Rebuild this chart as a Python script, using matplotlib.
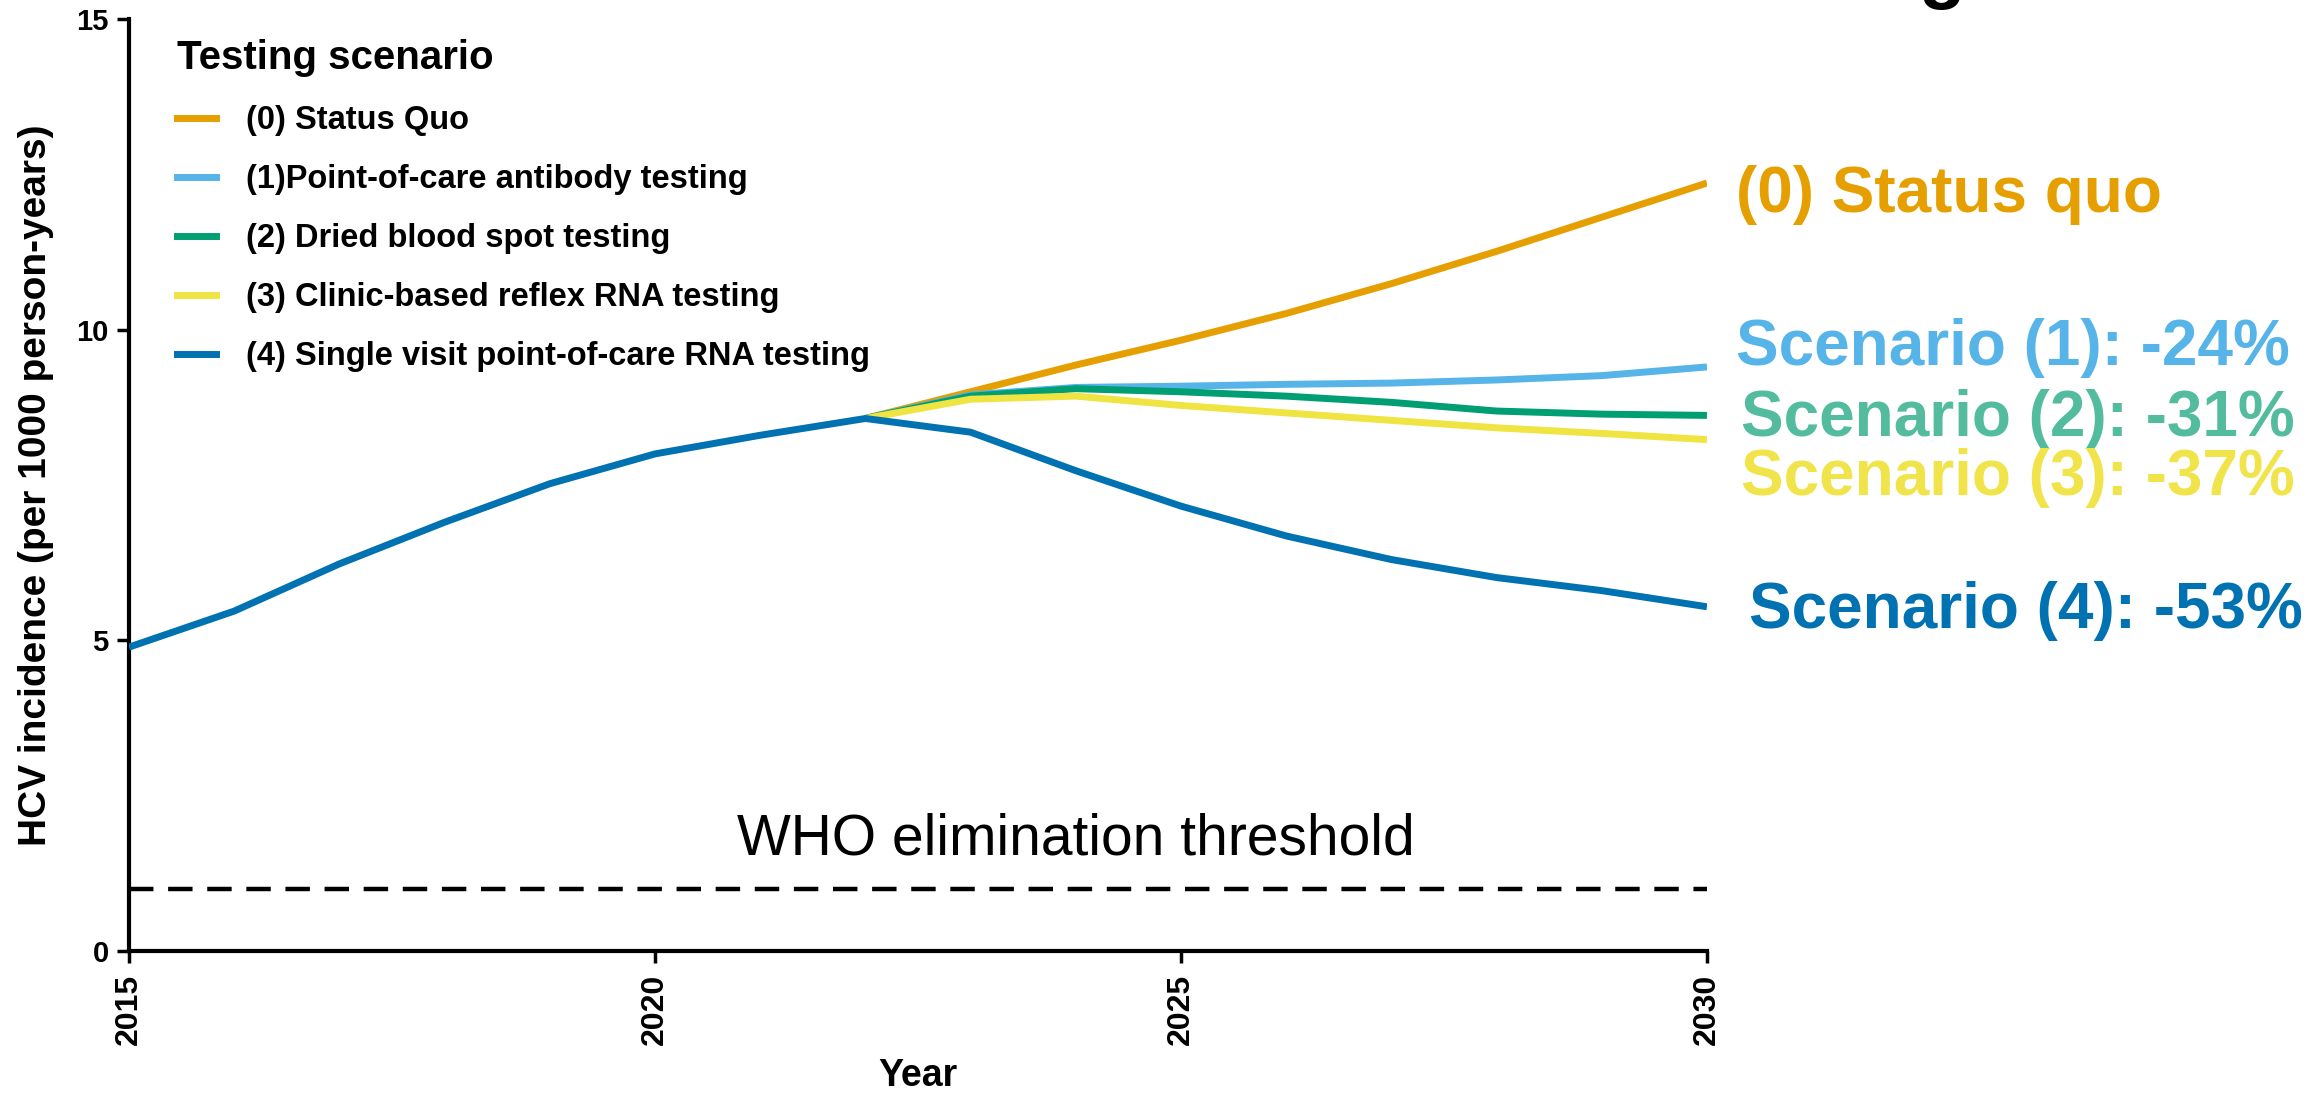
import matplotlib
matplotlib.use("Agg")
import matplotlib.pyplot as plt
from matplotlib.lines import Line2D

# ---- data -------------------------------------------------------------
years_hist = [2015, 2016, 2017, 2018, 2019, 2020, 2021, 2022]
incidence_hist = [4.89, 5.47, 6.23, 6.90, 7.52, 8.00, 8.30, 8.57]

years_proj = [2022, 2023, 2024, 2025, 2026, 2027, 2028, 2029, 2030]
status_quo = [8.57, 9.00, 9.43, 9.83, 10.26, 10.74, 11.26, 11.81, 12.36]
poc_antibody = [8.57, 8.95, 9.07, 9.09, 9.12, 9.14, 9.19, 9.26, 9.40]
dried_blood_spot = [8.57, 8.93, 9.05, 9.00, 8.93, 8.83, 8.69, 8.64, 8.62]
reflex_rna = [8.57, 8.88, 8.93, 8.78, 8.66, 8.54, 8.42, 8.33, 8.23]
single_visit_rna = [8.57, 8.35, 7.73, 7.16, 6.68, 6.30, 6.01, 5.80, 5.54]

scenario_names = [
    "(0) Status Quo",
    "(1)Point-of-care antibody testing",
    "(2) Dried blood spot testing",
    "(3) Clinic-based reflex RNA testing",
    "(4) Single visit point-of-care RNA testing",
]
end_labels = [
    "(0) Status quo",
    "Scenario (1): -24%",
    "Scenario (2): -31%",
    "Scenario (3): -37%",
    "Scenario (4): -53%",
]
who_threshold = 1.0
x_ticks = [2015, 2020, 2025, 2030]
y_ticks = [0, 5, 10, 15]

# ---- styling ----------------------------------------------------------
line_colors = ["#E69F00", "#56B4E9", "#009E73", "#F0E442", "#0072B2"]
label_colors = ["#E69F00", "#56B4E9", "#53BC9E", "#F0E44A", "#0072B2"]
label_y = [12.17, 9.71, 8.57, 7.61, 5.47]
label_x = [2030.28, 2030.28, 2030.32, 2030.32, 2030.40]
sans = "Liberation Sans"

fig = plt.figure(figsize=(23.23, 10.97), dpi=100)
ax = fig.add_axes([0.0555, 0.1331, 0.6793, 0.8496])

series = [status_quo, poc_antibody, dried_blood_spot, reflex_rna, single_visit_rna]
lw = 5
# projections drawn first so the shared history sits on top
for vals, c in zip(series[:4], line_colors[:4]):
    ax.plot(years_proj, vals, color=c, lw=lw, solid_capstyle="butt", zorder=3)
ax.plot(years_hist + years_proj[1:], incidence_hist + single_visit_rna[1:],
        color=line_colors[4], lw=lw, solid_capstyle="butt", zorder=4)

# WHO threshold
ax.axhline(who_threshold, color="black", lw=3.2, dashes=(5.5, 3.3), zorder=2)
ax.text(2024.0, 1.55, "WHO elimination threshold", fontsize=41,
        family=sans, ha="center", va="baseline")

# end-of-line labels
for txt, c, xx, yy in zip(end_labels, label_colors, label_x, label_y):
    ax.text(xx, yy, txt, color=c, fontsize=46, fontweight="bold",
            family=sans, ha="left", va="center", clip_on=False)

# axes
ax.set_xlim(2015, 2030)
ax.set_ylim(0, 15)
ax.set_xticks(x_ticks)
ax.set_yticks(y_ticks)
for s in ["top", "right"]:
    ax.spines[s].set_visible(False)
for s in ["left", "bottom"]:
    ax.spines[s].set_linewidth(3)
ax.tick_params(axis="both", width=2.5, length=8.5, direction="out", pad=6)
ax.tick_params(axis="x", pad=8)
for t in ax.get_xticklabels():
    t.set_rotation(90)
    t.set_fontweight("bold")
    t.set_fontsize(23)
    t.set_family(sans)
for t in ax.get_yticklabels():
    t.set_fontweight("bold")
    t.set_fontsize(21)
    t.set_family(sans)

ax.set_xlabel("Year", fontsize=27, fontweight="bold", family=sans, labelpad=9)
ax.set_ylabel("HCV incidence (per 1000 person-years)", fontsize=28,
              fontweight="bold", family=sans, labelpad=16)

handles = [Line2D([0], [0], color=c, lw=5) for c in line_colors]
leg = ax.legend(handles, scenario_names, title="Testing scenario",
                loc="upper left", bbox_to_anchor=(0.012, 1.01), frameon=False,
                prop={"family": sans, "weight": "bold", "size": 23.5},
                handlelength=1.2, handletextpad=0.9, labelspacing=0.86)
leg.set_title("Testing scenario", prop={"family": sans, "weight": "bold", "size": 29})
leg._legend_box.align = "left"

# clipped heading glyph at the top edge
fig.text(1942 / 2323, 1.0 + 6 / 1097, "g", fontsize=55, fontweight="bold",
         family=sans, ha="center", va="baseline")

fig.savefig("out.png", dpi=100)
